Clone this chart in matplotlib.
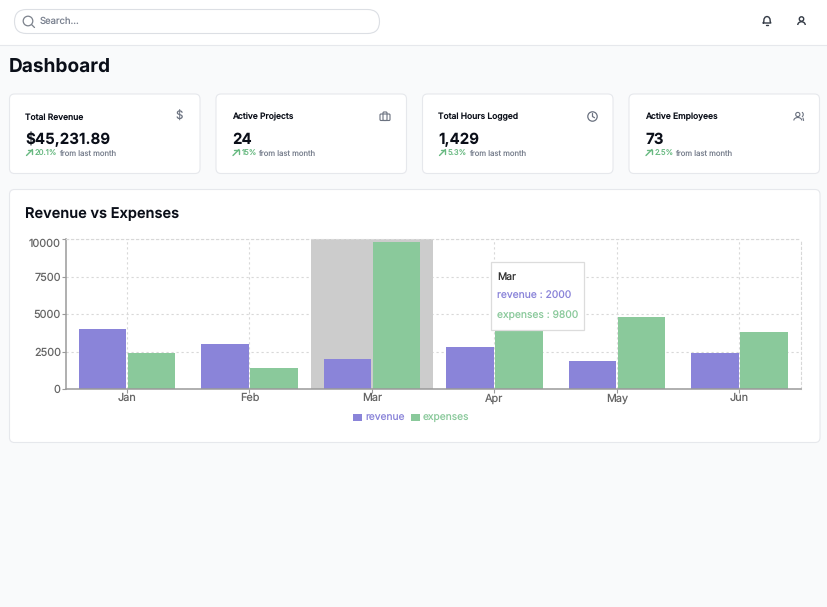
import matplotlib
matplotlib.use('Agg')
import matplotlib.pyplot as plt
import numpy as np
from matplotlib.patches import Circle, Arc, FancyBboxPatch, Rectangle

W, H = 828, 607

months = ['Jan', 'Feb', 'Mar', 'Apr', 'May', 'Jun']
revenue = [4000, 3000, 2000, 2780, 1890, 2390]
expenses = [2400, 1398, 9800, 3908, 4800, 3800]
y_ticks = [0, 2500, 5000, 7500, 10000]
active_month = 'Mar'

card_titles = ['Total Revenue', 'Active Projects', 'Total Hours Logged', 'Active Employees']
card_values = ['$45,231.89', '24', '1,429', '73']
card_changes = ['20.1%', '15%', '5.3%', '2.5%']

REV = '#8a84d9'
EXP = '#8ac99b'
GRAY = '#666666'
DARK = '#0b0f19'
MUTED = '#6b7280'
BORDER = '#e6e8ec'
GREEN = '#68b981'

plt.rcParams['font.family'] = ['Inter', 'DejaVu Sans']
plt.rcParams['text.hinting'] = 'no_hinting'
plt.rcParams['text.hinting_factor'] = 1


def px(v):
    return v * 0.72


def box(ax, x, y, w, h, r, fc='white', ec=BORDER, lw=0.8, z=1):
    ax.add_patch(FancyBboxPatch((x, y), w, h, boxstyle=f'round,pad=0,rounding_size={r}',
                                fc=fc, ec=ec, lw=lw, zorder=z))


def stroke(ax, xs, ys, color=MUTED, lw=0.9, z=3):
    ax.plot(xs, ys, color=color, lw=lw, solid_capstyle='round', zorder=z)


def circle(ax, x, y, r, color=MUTED, lw=0.9, z=3):
    ax.add_patch(Circle((x, y), r, fc='none', ec=color, lw=lw, zorder=z))


def icon_dollar(ax, x, y):
    ax.text(x, y, '$', fontsize=px(11.5), color=MUTED, ha='center', va='center', zorder=3)


def icon_case(ax, x, y):
    box(ax, x - 5, y - 2.5, 10, 6.5, 1, fc='none', ec=MUTED, lw=0.8, z=3)
    box(ax, x - 2, y - 4.5, 4, 8.5, 1, fc='none', ec=MUTED, lw=0.8, z=3)


def icon_clock(ax, x, y):
    circle(ax, x, y, 4.7)
    stroke(ax, [x, x, x + 2], [y - 3, y, y + 1.2])


def icon_users(ax, x, y):
    circle(ax, x - 1.2, y - 2, 2.1, lw=0.8)
    ax.add_patch(Arc((x - 1.2, y + 4), 8, 6, theta1=180, theta2=360, ec=MUTED, lw=0.8, zorder=3))
    ax.add_patch(Arc((x + 2.5, y - 2), 3.5, 4.5, theta1=-80, theta2=80, ec=MUTED, lw=0.8, zorder=3))
    stroke(ax, [x + 4, x + 4.6], [y + 1.5, y + 4], lw=0.8)


def icon_trend(ax, x, y):
    stroke(ax, [x - 3, x + 3], [y + 3, y - 3], color=GREEN, lw=1.0)
    stroke(ax, [x - 1.5, x + 3, x + 3], [y - 3, y - 3, y + 1.5], color=GREEN, lw=1.0)


fig = plt.figure(figsize=(W / 100, H / 100), dpi=100, facecolor='#f9fafb')

# page furniture, drawn in pixel coordinates
bg = fig.add_axes([0, 0, 1, 1], zorder=0)
bg.set_xlim(0, W)
bg.set_ylim(H, 0)
bg.axis('off')

bg.add_patch(Rectangle((0, 0), W, 44.5, fc='white', ec='none', zorder=1))
bg.plot([0, W], [44.8, 44.8], color=BORDER, lw=0.8, zorder=2)
box(bg, 14.5, 9.5, 365, 24, 12, ec='#dcdfe4')
circle(bg, 28, 21, 4.8, color='#7c828c', lw=0.9)
stroke(bg, [31.5, 34.5], [24.5, 27.5], color='#7c828c')
bg.text(40, 21.5, 'Search...', fontsize=px(9.5), color='#7b8290', va='center')

# bell
bx, by = 767, 20.5
stroke(bg, [bx - 3.8, bx - 3.2, bx - 3, bx - 1.8, bx, bx + 1.8, bx + 3, bx + 3.2, bx + 3.8, bx - 3.8],
       [by + 2.5, by + 1, by - 1.5, by - 3.4, by - 4, by - 3.4, by - 1.5, by + 1, by + 2.5, by + 2.5],
       color='#333a45', lw=1.0)
stroke(bg, [bx - 1, bx + 1], [by + 4.3, by + 4.3], color='#333a45', lw=1.0)
# user
circle(bg, 801.5, 19, 2.2, color='#333a45', lw=1.0)
bg.add_patch(Arc((801.5, 25), 7.5, 6.5, theta1=180, theta2=360, ec='#333a45', lw=1.0, zorder=3))

bg.text(9, 68, 'Dashboard', fontsize=px(19.1), fontweight='bold', color=DARK, va='center')

card_x = [9.5, 216, 422.5, 629]
icons = [icon_dollar, icon_case, icon_clock, icon_users]
icon_x = [179, 385, 592.5, 799]
for i, x0 in enumerate(card_x):
    box(bg, x0, 94, 190.5, 79.5, 5)
    bg.text(x0 + 16, 119.5, card_titles[i], fontsize=px(8.5), fontweight='medium', color=DARK, va='baseline')
    bg.text(x0 + 16, 144, card_values[i], fontsize=px(15.1), fontweight='bold', color=DARK, va='baseline')
    icons[i](bg, icon_x[i], 116.5)
    icon_trend(bg, x0 + 20, 152.5)
    t = bg.text(x0 + 25.5, 155.5, card_changes[i], fontsize=px(7.7), color=GREEN, va='baseline')
    fig.canvas.draw()
    ext = t.get_window_extent()
    bg.text(ext.x1 + 1.5, 155.5, 'from last month', fontsize=px(7.7), color='#7b8290', va='baseline')

box(bg, 9.5, 189.5, 810.5, 253, 5)
bg.text(25, 214, 'Revenue vs Expenses', fontsize=px(14.6), fontweight='semibold', color=DARK, va='center')

# chart
ax = fig.add_axes([65.7 / W, 1 - 389 / H, 735 / W, (389 - 239) / H], zorder=1)
ax.patch.set_alpha(0)
x = np.arange(len(months))
active = months.index(active_month)
ax.axvspan(active - 0.5, active + 0.5, color='#cccccc', lw=0, zorder=1.5)
ax.bar(x - 0.2, revenue, 0.386, color=REV, label='revenue', zorder=2)
ax.bar(x + 0.2, expenses, 0.386, color=EXP, label='expenses', zorder=2)
ax.set_xlim(-0.5, 5.5)
ax.set_ylim(0, 10000)
ax.set_xticks(x, months)
ax.set_yticks(y_ticks)
ax.grid(True, color='#d8d8d8', lw=0.8, linestyle=(0, (2, 2.5)), zorder=1)
ax.set_axisbelow(True)
for s in ['top', 'right']:
    ax.spines[s].set_color('#d8d8d8')
    ax.spines[s].set_linewidth(0.8)
    ax.spines[s].set_linestyle((0, (2, 2.5)))
for s in ['left', 'bottom']:
    ax.spines[s].set_color('#9a9a9a')
    ax.spines[s].set_linewidth(1.1)
ax.tick_params(axis='both', colors='#9a9a9a', labelcolor=GRAY, labelsize=px(10.9), length=3, width=0.8)
ax.tick_params(axis='y', pad=0.5)
ax.tick_params(axis='x', pad=0)
# top label sits below the axis edge
ax.get_yticklabels()[-1].set_verticalalignment('top')

leg = ax.legend(loc='center', bbox_to_anchor=(411 / W, 1 - 418 / H), bbox_transform=fig.transFigure,
                ncol=2, frameon=False, fontsize=px(10.2), handlelength=0.88, handleheight=0.75,
                handletextpad=0.3, columnspacing=0.6, borderpad=0)
for txt, c in zip(leg.get_texts(), [REV, EXP]):
    txt.set_color(c)

# tooltip on top of everything
top = fig.add_axes([0, 0, 1, 1], zorder=2)
top.set_xlim(0, W)
top.set_ylim(H, 0)
top.axis('off')
top.patch.set_alpha(0)
top.add_patch(Rectangle((491, 262), 93, 68, fc='white', ec='#dcdcdc', lw=0.9, zorder=5))
top.text(497.5, 277, active_month, fontsize=px(10.3), color='#333333', va='center', zorder=6)
top.text(497.5, 295, f'revenue : {revenue[active]}', fontsize=px(10.3), color=REV, va='center', zorder=6)
top.text(497.5, 315, f'expenses : {expenses[active]}', fontsize=px(10.3), color=EXP, va='center', zorder=6)

fig.savefig('out.png', dpi=100, facecolor=fig.get_facecolor())
